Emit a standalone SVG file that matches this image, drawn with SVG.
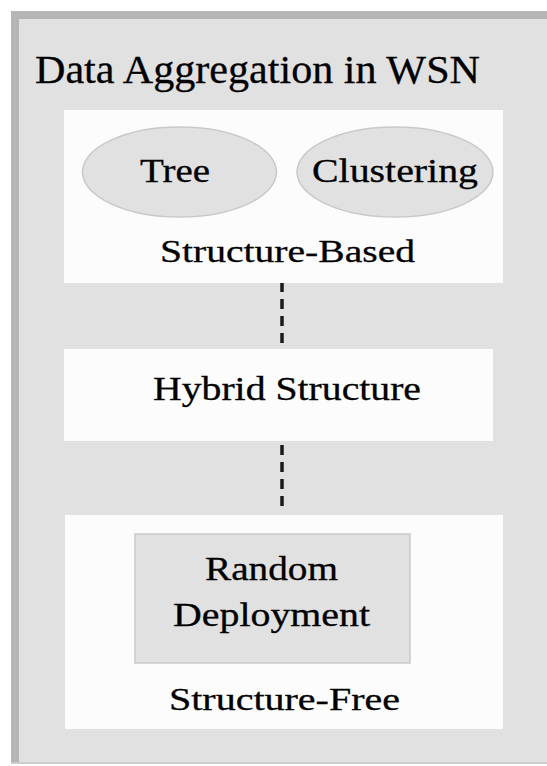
<svg xmlns="http://www.w3.org/2000/svg" width="547" height="766" viewBox="0 0 547 766">
  <style>
    .lbl { font-family: "Liberation Serif", "Times New Roman", serif; fill: #000; stroke: #000; stroke-width: 0.3; }
    .panel { fill: #fcfcfc; }
    .shape { fill: #e1e1e1; stroke: #c9c9c9; stroke-width: 1.5; }
    .link { stroke: #1a1a1a; stroke-width: 3.5; stroke-dasharray: 10 7; fill: none; }
  </style>

  <!-- page background and outer frame -->
  <rect x="0" y="0" width="547" height="766" fill="#ffffff"/>
  <rect x="11" y="11" width="536" height="752" fill="#e1e1e1"/>
  <rect x="11" y="11" width="536" height="8" fill="#b5b5b5"/>
  <rect x="11" y="11" width="8" height="752" fill="#b5b5b5"/>
  <rect x="11" y="762" width="536" height="2" fill="#cdcdcd"/>

  <g id="title">
    <text class="lbl" x="35" y="83" font-size="40" textLength="445" lengthAdjust="spacingAndGlyphs">Data Aggregation in WSN</text>
  </g>

  <!-- dashed connectors between the three categories -->
  <g id="connectors">
    <line class="link" x1="282" y1="282" x2="282" y2="345"/>
    <line class="link" x1="282" y1="445" x2="282" y2="508"/>
  </g>

  <g id="structure-based">
    <rect class="panel" x="64" y="110" width="439" height="173"/>
    <g id="tree">
      <ellipse class="shape" cx="179.5" cy="172" rx="97" ry="45"/>
      <text class="lbl" x="140" y="182" font-size="33" textLength="70" lengthAdjust="spacingAndGlyphs">Tree</text>
    </g>
    <g id="clustering">
      <ellipse class="shape" cx="395" cy="172" rx="98" ry="45"/>
      <text class="lbl" x="312" y="182" font-size="33" textLength="166" lengthAdjust="spacingAndGlyphs">Clustering</text>
    </g>
    <text class="lbl" x="160" y="262" font-size="32" textLength="255" lengthAdjust="spacingAndGlyphs">Structure-Based</text>
  </g>

  <g id="hybrid">
    <rect class="panel" x="64" y="349" width="429" height="92"/>
    <text class="lbl" x="153" y="400" font-size="33" textLength="268" lengthAdjust="spacingAndGlyphs">Hybrid Structure</text>
  </g>

  <g id="structure-free">
    <rect class="panel" x="65" y="515" width="438" height="214"/>
    <g id="random-deployment">
      <rect class="shape" x="135" y="534" width="275" height="129"/>
      <text class="lbl" x="205" y="580" font-size="33" textLength="133" lengthAdjust="spacingAndGlyphs">Random</text>
      <text class="lbl" x="173" y="626" font-size="33" textLength="197" lengthAdjust="spacingAndGlyphs">Deployment</text>
    </g>
    <text class="lbl" x="169" y="710" font-size="32" textLength="231" lengthAdjust="spacingAndGlyphs">Structure-Free</text>
  </g>
</svg>
